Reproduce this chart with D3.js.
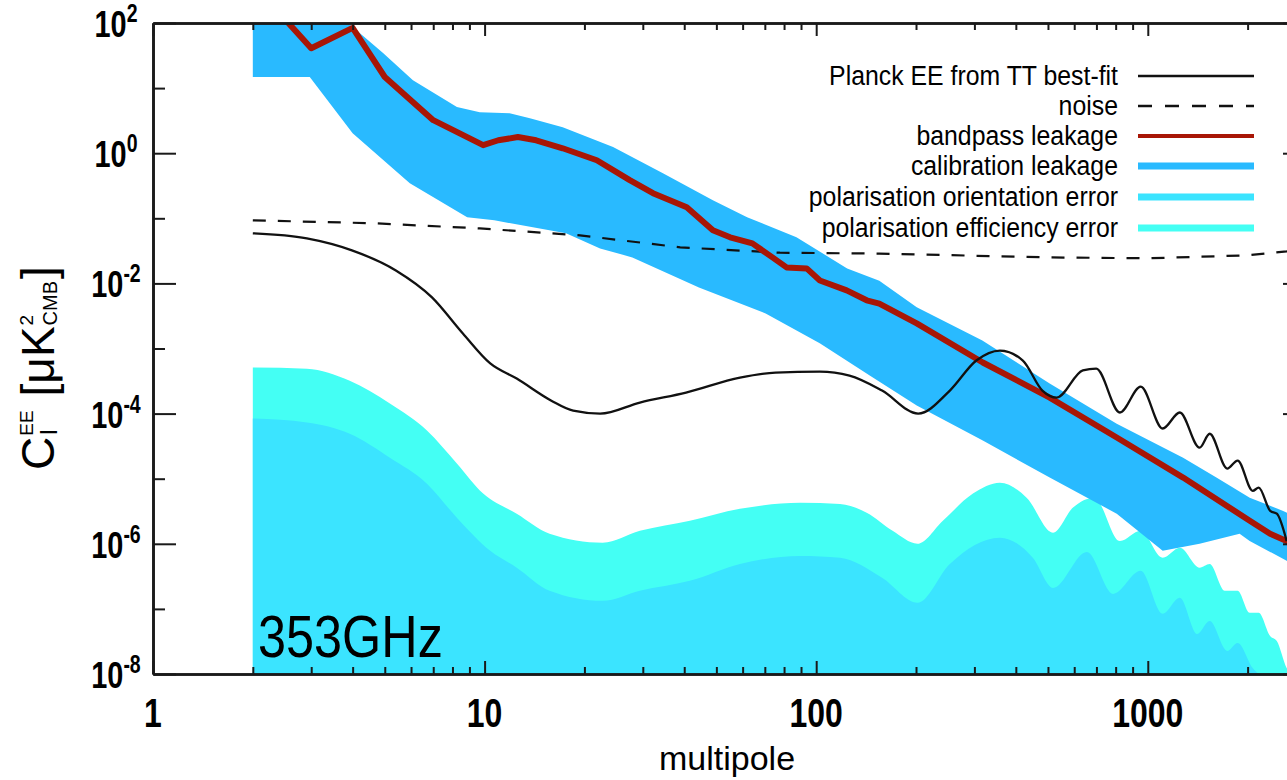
<!DOCTYPE html>
<html>
<head>
<meta charset="utf-8">
<script src="https://cdn.jsdelivr.net/npm/d3@7"></script>
<style>
  html, body { margin: 0; padding: 0; background: #ffffff; }
  svg { display: block; }
  text { font-family: "Liberation Sans", Arial, Helvetica, sans-serif; fill: #000; }
</style>
</head>
<body>
<svg id="chart" width="1287" height="780"></svg>
<script>
// ---- EE power spectra at 353 GHz (multipole l, C_l in uK^2_CMB) ----

// Planck EE from TT best-fit
const bestFitL = [2, 2.91, 3.98, 5.4, 6.94, 8.6, 10.4, 12.5, 15.9, 18.5, 22.3, 29.4, 40.5, 58.9, 75.4, 102.5, 126, 158, 203, 253, 304, 358, 420, 481, 531, 637, 699, 824, 952, 1109, 1249, 1433, 1537, 1736, 1866, 2072, 2160, 2340, 2450, 2623];
const bestFitV = [0.0588, 0.0492, 0.0322, 0.0158, 0.0061, 0.0017, 5.9e-4, 3.45e-4, 1.58e-4, 1.11e-4, 1.0e-4, 1.48e-4, 2.1e-4, 3.58e-4, 4.27e-4, 4.4e-4, 3.84e-4, 2.26e-4, 1.0e-4, 2.26e-4, 6.54e-4, 9.3e-4, 6.54e-4, 2.26e-4, 1.76e-4, 4.6e-4, 4.9e-4, 1.04e-4, 2.6e-4, 5.9e-5, 1.04e-4, 3.0e-5, 4.9e-5, 1.43e-5, 1.9e-5, 6.5e-6, 7.3e-6, 3.2e-6, 2.9e-6, 1.1e-6];

// noise
const noiseL = [2, 4.6, 9.67, 19.4, 38.9, 77.7, 155, 500, 1000, 2000, 2623, 2700];
const noiseV = [0.093, 0.084, 0.070, 0.0547, 0.0358, 0.0296, 0.0287, 0.0251, 0.0243, 0.027, 0.031, 0.032];

// bandpass leakage
const bandpassL = [2, 3, 4, 5, 7, 9.9, 11, 12.6, 14.3, 17.2, 21.8, 27.4, 32.2, 40.7, 48.8, 55, 64.2, 73.8, 81.4, 93.6, 102.6, 123.6, 142, 155, 201, 318, 506, 806, 1278, 2030, 2338, 2623, 2700];
const bandpassV = [400, 41, 84, 14.8, 3.22, 1.33, 1.58, 1.77, 1.58, 1.19, 0.78, 0.385, 0.243, 0.148, 0.0654, 0.051, 0.0412, 0.0251, 0.0176, 0.017, 0.0111, 0.0078, 0.0055, 0.0049, 0.00243, 6.1e-4, 1.76e-4, 4.3e-5, 1.04e-5, 2.26e-6, 1.43e-6, 1.1e-6, 1.05e-6];

// calibration leakage envelope (upper and lower edges)
const calibUpperL = [2, 3, 3.5, 4.0, 4.94, 6.08, 8.25, 9.67, 11.9, 13.7, 17.2, 24.4, 34.5, 48.8, 61.9, 87.2, 124, 155, 201, 317, 506, 806, 1278, 1615, 2030, 2560, 2700];
const calibUpperV = [300, 250, 150, 86.8, 34.5, 13.2, 5.14, 4.27, 4.1, 3.45, 2.51, 1.24, 0.49, 0.19, 0.104, 0.051, 0.017, 0.011, 0.0043, 0.00133, 2.9e-4, 7.0e-5, 2.1e-5, 1.03e-5, 5.1e-6, 3.2e-6, 2.8e-6];
const calibLowerL = [2, 2.97, 4.0, 5.95, 8.86, 10.7, 17.6, 22.3, 27.9, 44.3, 70.4, 102.5, 145, 201, 318, 506, 806, 1109, 1433, 1892, 2029, 2623, 2700];
const calibLowerV = [14.8, 14.8, 2.03, 0.345, 0.104, 0.093, 0.0588, 0.0345, 0.0251, 0.00867, 0.00345, 0.0012, 3.84e-4, 1.33e-4, 3.85e-5, 1.04e-5, 2.9e-6, 7.8e-7, 1.0e-6, 1.43e-6, 1.1e-6, 5.5e-7, 5e-7];

// polarisation orientation error
const orientL = [2, 2.91, 3.92, 5.18, 6.7, 8.26, 10.4, 12.5, 15.7, 22.7, 29.4, 41.6, 58.9, 89.5, 118, 158, 202, 253, 358, 450, 518, 655, 786, 952, 1109, 1249, 1408, 1537, 1736, 1866, 2072, 2160, 2400, 2700];
const orientV = [8.4e-5, 7.3e-5, 4.9e-5, 2.1e-5, 8.4e-6, 2.5e-6, 7.8e-7, 4.3e-7, 1.9e-7, 1.33e-7, 1.9e-7, 2.7e-7, 4.9e-7, 6.5e-7, 6.1e-7, 3.0e-7, 1.24e-7, 4.9e-7, 1.24e-6, 6.1e-7, 2.1e-7, 7.5e-7, 1.7e-7, 3.85e-7, 8.4e-8, 1.48e-7, 4.1e-8, 6.5e-8, 2.26e-8, 3.0e-8, 1.24e-8, 1.0e-8, 6e-9, 4e-9];

// polarisation efficiency error
const effL = [2, 2.91, 3.92, 5.18, 6.7, 8.26, 9.9, 12.5, 15.7, 22.7, 29.4, 41.6, 58.9, 89.5, 118, 142, 170, 202, 241, 297, 358, 431, 518, 595, 690, 824, 952, 1109, 1249, 1433, 1537, 1706, 1866, 2030, 2160, 2338, 2450, 2623, 2700];
const effV = [5.1e-4, 4.9e-4, 3.2e-4, 1.43e-4, 5.5e-5, 1.7e-5, 5.9e-6, 2.9e-6, 1.43e-6, 1.04e-6, 1.58e-6, 2.26e-6, 3.45e-6, 4.27e-6, 4.1e-6, 3.0e-6, 1.58e-6, 1.0e-6, 2.26e-6, 5.9e-6, 8.7e-6, 5.1e-6, 1.48e-6, 3.6e-6, 5.1e-6, 1.1e-6, 1.58e-6, 6.1e-7, 8.7e-7, 4.3e-7, 4.9e-7, 1.9e-7, 1.9e-7, 8.7e-8, 8.7e-8, 3.85e-8, 3.2e-8, 1.24e-8, 1.0e-8];

// axes
const xMajorTicks = [1, 10, 100, 1000];
const xTickLabels = ["1", "10", "100", "1000"];
const xMinorTicks = [2,3,4,5,6,7,8,9, 20,30,40,50,60,70,80,90, 200,300,400,500,600,700,800,900, 2000, 3000];
const yMajorExp = [2, 0, -2, -4, -6, -8];
const yMinorExp = [1, -1, -3, -5, -7];

const legendLabels = ["Planck EE from TT best-fit", "noise", "bandpass leakage", "calibration leakage", "polarisation orientation error", "polarisation efficiency error"];

// ---- drawing ----
const COL = {
  black: "#111111",
  red: "#a81606",
  calib: "#29baff",
  orient: "#3be4ff",
  eff: "#44fff4"
};
const SX = 0.78; // horizontal glyph compression of the figure's lettering

const svg = d3.select("#chart");
const x = d3.scaleLog().domain([1, 3000]).range([153, 1306]);
const y = d3.scaleLog().domain([1e-8, 1e2]).range([674, 23]);
const [x0, x1] = x.range();
const [yB, yT] = y.range();

svg.append("defs").append("clipPath").attr("id", "plot-clip")
  .append("rect").attr("x", x0).attr("y", yT).attr("width", x1 - x0).attr("height", yB - yT);

const plot = svg.append("g").attr("clip-path", "url(#plot-clip)");
const zip = (L, V) => L.map((l, i) => [l, V[i]]);

const fillArea = d3.area().curve(d3.curveMonotoneX)
  .x(d => x(d[0])).y0(yB).y1(d => y(d[1]));

plot.append("path").attr("d", fillArea(zip(effL, effV))).attr("fill", COL.eff);
plot.append("path").attr("d", fillArea(zip(orientL, orientV))).attr("fill", COL.orient);

const straight = d3.line().x(d => x(d[0])).y(d => y(d[1]));
const calibPoly = zip(calibUpperL, calibUpperV).concat(zip(calibLowerL, calibLowerV).reverse());
plot.append("path").attr("d", straight(calibPoly) + "Z").attr("fill", COL.calib);

plot.append("path").attr("d", straight(zip(noiseL, noiseV)))
  .attr("fill", "none").attr("stroke", COL.black).attr("stroke-width", 2.2)
  .attr("stroke-dasharray", "13,12");

plot.append("path").attr("d", straight(zip(bandpassL, bandpassV)))
  .attr("fill", "none").attr("stroke", COL.red).attr("stroke-width", 6)
  .attr("stroke-linejoin", "round");

const smooth = d3.line().curve(d3.curveMonotoneX).x(d => x(d[0])).y(d => y(d[1]));
plot.append("path").attr("d", smooth(zip(bestFitL, bestFitV)))
  .attr("fill", "none").attr("stroke", COL.black).attr("stroke-width", 2.3);

// frame and ticks (inward)
function styleAxis(g) {
  g.select(".domain").attr("stroke", "#1a1a1a").attr("stroke-width", 2.6);
  g.selectAll(".tick line").attr("stroke", "#1a1a1a").attr("stroke-width", 2);
  g.selectAll(".tick text").remove();
}
const axes = svg.append("g");
axes.append("g").attr("transform", `translate(0,${yB})`)
  .call(d3.axisBottom(x).tickValues(xMajorTicks).tickSizeInner(-13).tickSizeOuter(0).tickFormat("")).call(styleAxis);
axes.append("g").attr("transform", `translate(0,${yB})`)
  .call(d3.axisBottom(x).tickValues(xMinorTicks).tickSizeInner(-7).tickSizeOuter(0).tickFormat("")).call(styleAxis);
axes.append("g").attr("transform", `translate(0,${yT})`)
  .call(d3.axisTop(x).tickValues(xMajorTicks).tickSizeInner(-13).tickSizeOuter(0).tickFormat("")).call(styleAxis);
axes.append("g").attr("transform", `translate(0,${yT})`)
  .call(d3.axisTop(x).tickValues(xMinorTicks).tickSizeInner(-7).tickSizeOuter(0).tickFormat("")).call(styleAxis);

const yMajor = yMajorExp.map(e => Math.pow(10, e));
const yMinor = yMinorExp.map(e => Math.pow(10, e));
axes.append("g").attr("transform", `translate(${x0},0)`)
  .call(d3.axisLeft(y).tickValues(yMajor).tickSizeInner(-23).tickSizeOuter(0).tickFormat("")).call(styleAxis);
axes.append("g").attr("transform", `translate(${x0},0)`)
  .call(d3.axisLeft(y).tickValues(yMinor).tickSizeInner(-12).tickSizeOuter(0).tickFormat("")).call(styleAxis);
axes.append("g").attr("transform", `translate(${x1},0)`)
  .call(d3.axisRight(y).tickValues(yMajor).tickSizeInner(-23).tickSizeOuter(0).tickFormat("")).call(styleAxis);
axes.append("g").attr("transform", `translate(${x1},0)`)
  .call(d3.axisRight(y).tickValues(yMinor).tickSizeInner(-12).tickSizeOuter(0).tickFormat("")).call(styleAxis);

// tick labels
const labels = svg.append("g");
xMajorTicks.forEach((v, i) => {
  labels.append("text")
    .attr("transform", `translate(${x(v)},727) scale(${SX},1)`)
    .attr("text-anchor", "middle").attr("font-size", 41).attr("font-weight", "bold")
    .text(xTickLabels[i]);
});
yMajorExp.forEach(e => {
  const t = labels.append("text")
    .attr("transform", `translate(116,${y(Math.pow(10, e)) + 14}) scale(${SX},1)`)
    .attr("text-anchor", "middle").attr("font-size", 37).attr("font-weight", "bold");
  t.append("tspan").text("10");
  t.append("tspan").attr("font-size", 25).attr("dy", -15).text(String(e));
});

// axis titles
labels.append("text")
  .attr("transform", `translate(727,770)`)
  .attr("text-anchor", "middle").attr("font-size", 34)
  .text("multipole");

// rotated y title: C_l^EE [uK^2_CMB], built piece by piece along the text direction
const yTitle = labels.append("g").attr("transform", `translate(54,470) rotate(-90)`);
function piece(str, size, u, v) {
  const t = yTitle.append("text").attr("x", u).attr("y", v).attr("font-size", size).text(str);
  return t.node().getComputedTextLength();
}
let u = 0;
const wC = piece("C", 46, u, 0);
u += wC + 1;
const wEE = piece("EE", 19, u, -21);
const wl = piece("l", 24, u + 1, 3);
u += Math.max(wEE, wl) + 14;
const wK = piece("[\u03bcK", 46, u, 0);
u += wK + 1;
const w2 = piece("2", 19, u, -21);
const wCMB = piece("CMB", 20, u, 3);
u += Math.max(w2, wCMB) + 2;
piece("]", 46, u, 0);

// frequency tag
labels.append("text")
  .attr("transform", `translate(258,657) scale(0.84,1)`)
  .attr("font-size", 60).text("353GHz");

// legend
const legend = svg.append("g");
const legendY = [76, 106, 136, 166, 197, 228];
const legendStyle = [
  { color: COL.black, width: 2.5, dash: null },
  { color: COL.black, width: 2.5, dash: "14,13" },
  { color: COL.red, width: 4, dash: null },
  { color: COL.calib, width: 7, dash: null },
  { color: COL.orient, width: 7, dash: null },
  { color: COL.eff, width: 7, dash: null }
];
legendLabels.forEach((lab, i) => {
  const ly = legendY[i];
  legend.append("text")
    .attr("transform", `translate(1118,${ly + 9}) scale(0.92,1)`)
    .attr("text-anchor", "end").attr("font-size", 27).text(lab);
  legend.append("line")
    .attr("x1", 1138).attr("x2", 1254).attr("y1", ly).attr("y2", ly)
    .attr("stroke", legendStyle[i].color).attr("stroke-width", legendStyle[i].width)
    .attr("stroke-dasharray", legendStyle[i].dash);
});
</script>
</body>
</html>
